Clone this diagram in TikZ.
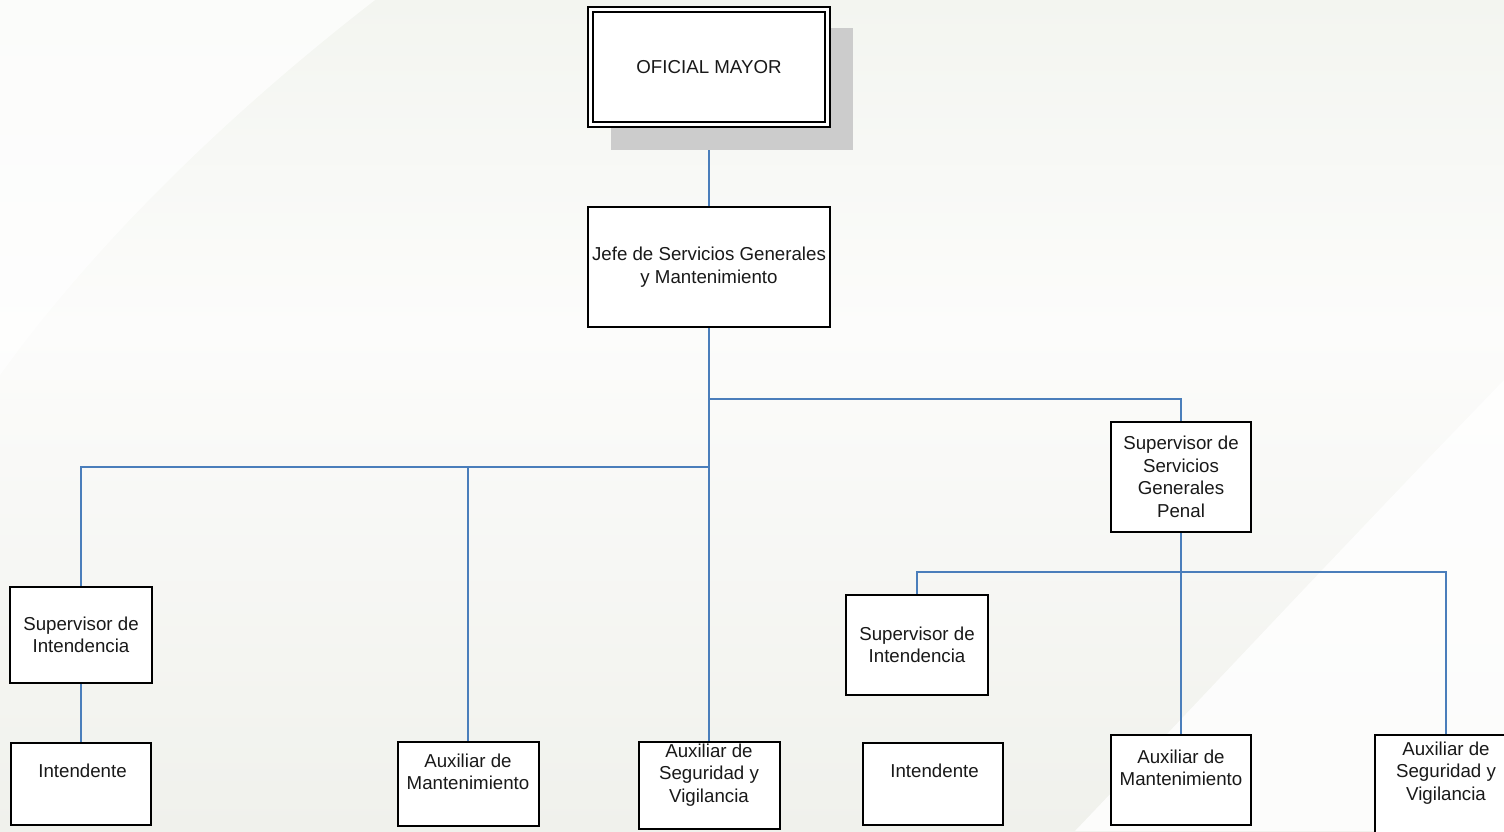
\documentclass[tikz,border=0pt]{standalone}
\usepackage{fontspec}
\setmainfont{Liberation Sans}
\definecolor{linkblue}{HTML}{4A7EBB}
\definecolor{shadowgray}{HTML}{CCCCCC}
\definecolor{bgtop}{HTML}{F3F5F0}
\definecolor{bgmid}{HTML}{FCFCFB}
\definecolor{bgbottom}{HTML}{F0F1EC}
\pgfdeclarelayer{bg}
\pgfdeclarelayer{lines}
\pgfsetlayers{bg,lines,main}

\begin{document}
\begin{tikzpicture}
[x=1pt,y=-1pt,
  font=\fontsize{18.7}{22.5}\selectfont,
  boxdecorate/.style={shape=rectangle,draw,line width=2pt,fill=white,inner sep=0pt,outer sep=0pt},%
  textdecorate/.style={align=center,inner sep=0pt,text=black!90},%
  linedecorate/.style={-,draw=linkblue,line width=2pt}]
\useasboundingbox (0,0) rectangle (1504,831);
%% nodes or boxes
\node (mayor) at (709,67) [boxdecorate,double,double distance=3pt,minimum width=237pt,minimum height=115pt] {};
\node (mayor-t) at (709,67) [textdecorate] {OFICIAL MAYOR};
\foreach \nodename/\x/\y/\w/\h/\dy/\txt in {
  jefe/709/267/242/120/0/{Jefe de Servicios Generales\\y Mantenimiento},
  sgp/1181/477/140/110/0/{Supervisor de\\Servicios\\Generales\\Penal},
  supintL/81/635/142/96/0/{Supervisor de\\Intendencia},
  intL/81/784/140/82/-13/{\,Intendente},
  auxmantL/468/784/141/84/-12/{Auxiliar de\\Mantenimiento},
  auxsegL/709/785/141/87/-10/{Auxiliar de\\Seguridad y\\Vigilancia},
  supintR/917/645/142/100/0/{Supervisor de\\Intendencia},
  intR/933/784/140/82/-13/{\,Intendente},
  auxmantR/1181/780/140/90/-12/{Auxiliar de\\Mantenimiento},
  auxsegR/1446/785/142/100/-12/{Auxiliar de\\Seguridad y\\Vigilancia}}
{
  \node (\nodename) at (\x,\y) [boxdecorate,minimum width=\w pt,minimum height=\h pt] {};
  \node (\nodename-t) at (\x,{\y+(\dy)}) [textdecorate] {\txt};
}
%% edges or lines
\begin{pgfonlayer}{lines}
\coordinate (forkA) at (709,399);
\coordinate (forkB) at (709,467);
\coordinate (forkC) at (1181,572);
\path
\foreach \startnode/\endnode in {mayor/jefe, jefe/auxsegL, supintL/intL, sgp/auxmantR} {
  (\startnode.south) edge[linedecorate] (\endnode.north)
};
\draw[linedecorate] (forkA) -| (sgp.north);
\draw[linedecorate] (supintL.north) |- (forkB);
\draw[linedecorate] (forkB -| auxmantL.north) -- (auxmantL.north);
\draw[linedecorate] (supintR.north) |- (forkC) -| (auxsegR.north);
%% shadow of the top box
\fill[shadowgray] ([xshift=20.5pt,yshift=-18.5pt]mayor.north west) rectangle ([xshift=25.5pt,yshift=-25.5pt]mayor.south east);
\end{pgfonlayer}
%% background
\begin{pgfonlayer}{bg}
\begin{scope}[y=1pt]
\fill[top color=bgtop,bottom color=bgmid] (0,0) rectangle (1504,-330);
\fill[top color=bgmid,bottom color=bgbottom] (0,-330) rectangle (1504,-831);
\fill[white,opacity=0.7] (0,0) -- (375,0) .. controls (220,-120) and (90,-250) .. (0,-375) -- cycle;
\fill[white,opacity=0.8] (1504,-380) .. controls (1330,-560) and (1200,-700) .. (1075,-831) -- (1504,-831) -- cycle;
\end{scope}
\end{pgfonlayer}
\end{tikzpicture}
\end{document}
